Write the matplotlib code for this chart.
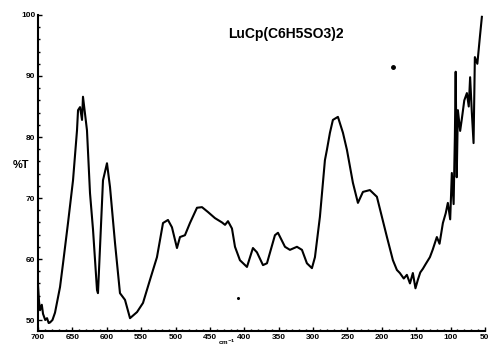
import matplotlib.pyplot as plt
from matplotlib.ticker import MultipleLocator

plt.rcParams['font.family'] = ['Liberation Sans', 'DejaVu Sans']
plt.rcParams['font.weight'] = 'bold'

# 波数 (cm-1) 与透过率 %T
wavenumber = [700.0, 698.5, 697.1, 694.5, 692.7, 689.5, 686.9, 684.5, 682.5, 679.0, 675.3,
              668.0, 663.6, 656.4, 649.1, 643.3, 641.8, 638.9, 636.0, 634.6, 628.8,
              624.4, 620.0, 614.2, 612.8, 609.8, 605.5, 599.7, 595.3, 588.0, 580.8,
              573.5, 566.2, 556.0, 547.3, 537.1, 527.0, 518.2, 511.0, 505.2, 497.9,
              493.5, 486.3, 479.0, 468.8, 461.5, 452.8, 442.6, 432.5, 428.0, 423.7,
              417.9, 413.5, 406.3, 396.1, 387.4, 381.6, 372.8, 367.0, 355.4, 351.0,
              340.8, 333.6, 323.4, 316.1, 308.9, 301.6, 297.2, 290.0, 282.7, 279.8,
              275.4, 271.1, 263.8, 256.5, 250.7, 242.0, 234.7, 227.4, 217.3, 207.1,
              199.8, 192.5, 183.8, 178.0, 173.7, 168.0, 163.5, 159.0, 154.8, 151.0,
              147.5, 144.0, 140.2, 136.0, 130.0, 126.0, 119.9, 116.0, 111.1, 107.0,
              103.9, 100.5, 98.1, 95.5, 93.7, 92.5, 91.0, 89.3, 86.0, 83.5, 80.0,
              76.2, 73.5, 71.5, 69.0, 66.5, 64.6, 61.0, 57.3, 54.4]
transmittance = [55.7, 53.0, 51.6, 52.5, 51.0, 50.0, 50.3, 49.5, 49.6, 50.0, 51.2,
                 55.4, 59.3, 65.9, 72.9, 81.1, 84.4, 84.9, 82.8, 86.6, 81.1,
                 70.8, 64.8, 54.9, 54.4, 62.0, 72.9, 75.7, 71.8, 62.6, 54.4,
                 53.3, 50.3, 51.3, 52.8, 56.6, 60.3, 65.9, 66.4, 65.2, 61.8,
                 63.6, 63.9, 65.9, 68.4, 68.5, 67.7, 66.7, 66.0, 65.6, 66.2,
                 65.0, 62.0, 59.8, 58.7, 61.8, 61.1, 59.0, 59.3, 63.9, 64.3,
                 62.0, 61.5, 62.0, 61.5, 59.3, 58.5, 60.3, 66.9, 76.2, 77.9,
                 80.7, 82.8, 83.3, 80.7, 77.9, 72.5, 69.2, 71.0, 71.3, 70.2,
                 66.9, 63.6, 59.8, 58.2, 57.7, 56.8, 57.4, 56.0, 57.7, 55.2,
                 56.6, 57.8, 58.4, 59.2, 60.3, 61.5, 63.6, 62.5, 65.9, 67.5,
                 69.2, 66.5, 74.1, 69.0, 80.0, 90.7, 73.4, 84.4, 81.0, 83.0, 86.0,
                 87.2, 85.0, 89.8, 84.0, 79.0, 93.1, 92.0, 96.4, 99.7]

x_ticks = list(range(700, 49, -50))
y_ticks = [50, 60, 70, 80, 90, 100]

fig = plt.figure(figsize=(4.9, 3.48), dpi=100)
ax = fig.add_axes([0.0776, 0.0489, 0.912, 0.908])

ax.plot(wavenumber, transmittance, color='black', lw=1.5)
ax.plot([183.8], [91.5], 'o', color='black', ms=2.5)
ax.plot([409], [53.6], 'o', color='black', ms=1.2)

ax.set_xlim(700, 50)
ax.set_ylim(48.2, 100)
ax.set_xticks(x_ticks)
ax.set_yticks(y_ticks)
ax.xaxis.set_minor_locator(MultipleLocator(10))
ax.yaxis.set_minor_locator(MultipleLocator(2))
ax.tick_params(which='both', direction='in', labelsize=6, pad=2, width=1)
ax.tick_params(which='major', length=3)
ax.tick_params(which='minor', length=1.5)
for s in ['top', 'right']:
    ax.spines[s].set_visible(False)
for s in ['left', 'bottom']:
    ax.spines[s].set_linewidth(1.5)

ax.text(0.555, 0.94, 'LuCp(C6H5SO3)2', transform=ax.transAxes, ha='center', va='center',
        fontsize=10, fontweight='bold')
fig.text(0.025, 0.525, '%T', ha='left', va='center', fontsize=8, fontweight='bold')
fig.text(0.463, 0.002, 'cm$^{-1}$', ha='center', va='bottom', fontsize=4.5)

plt.savefig('out.png')
